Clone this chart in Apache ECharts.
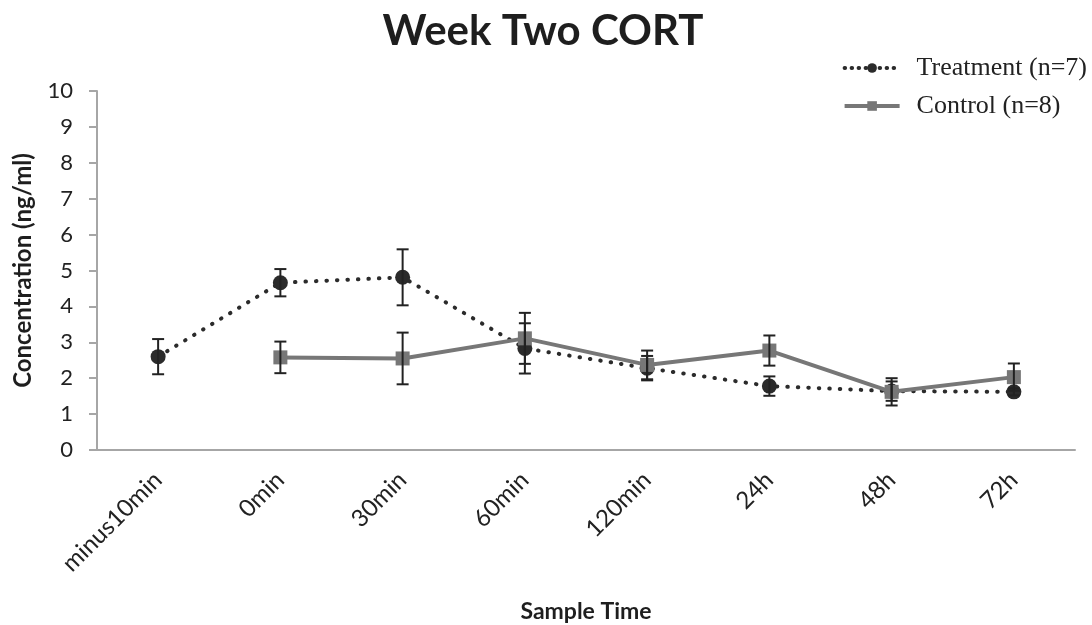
<!DOCTYPE html>
<html>
<head>
<meta charset="utf-8">
<script src="https://cdn.jsdelivr.net/npm/echarts@6/dist/echarts.min.js"></script>
<style>
  html, body { margin: 0; padding: 0; background: #fff; }
  #chart { width: 1092px; height: 625px; }
</style>
</head>
<body>
<div id="chart"></div>
<script>
// Sample times along the x axis
const sampleTimes = ['minus10min', '0min', '30min', '60min', '120min', '24h', '48h', '72h'];

// Treatment group (n=7): mean CORT and standard error
const treatmentMean = [2.60, 4.66, 4.81, 2.83, 2.28, 1.78, 1.64, 1.62];
const treatmentErr  = [0.49, 0.38, 0.78, 0.70, 0.34, 0.27, 0.27, 0.10];

// Control group (n=8): no baseline sample at minus10min
const controlMean = [null, 2.58, 2.55, 3.11, 2.37, 2.77, 1.62, 2.03];
const controlErr  = [null, 0.44, 0.72, 0.71, 0.40, 0.42, 0.38, 0.38];

const yTicks = { min: 0, max: 10, interval: 1 };

const chart = echarts.init(document.getElementById('chart'));

// Build [index, low, high] triples for the error bar series
function errorData(mean, err) {
  const out = [];
  mean.forEach((m, i) => {
    if (m !== null && err[i] !== null) out.push([i, m - err[i], m + err[i]]);
  });
  return out;
}

function renderErrorBar(params, api) {
  const x = api.value(0);
  const lo = api.coord([x, api.value(1)]);
  const hi = api.coord([x, api.value(2)]);
  const half = 6;
  const style = { stroke: '#222', lineWidth: 2 };
  return {
    type: 'group',
    children: [
      { type: 'line', shape: { x1: lo[0], y1: lo[1], x2: hi[0], y2: hi[1] }, style },
      { type: 'line', shape: { x1: lo[0] - half, y1: lo[1], x2: lo[0] + half, y2: lo[1] }, style },
      { type: 'line', shape: { x1: hi[0] - half, y1: hi[1], x2: hi[0] + half, y2: hi[1] }, style }
    ]
  };
}

const option = {
  backgroundColor: '#fff',
  animation: false,
  title: {
    text: 'Week Two CORT',
    left: 538,
    textAlign: 'center',
    top: 5,
    textStyle: { fontFamily: 'Lato', fontWeight: 'bold', fontSize: 42, color: '#1e1e1e' }
  },
  legend: {
    orient: 'vertical',
    right: 0,
    top: 50,
    itemGap: 12,
    itemWidth: 55,
    itemHeight: 12,
    data: [
      { name: 'Treatment (n=7)', lineStyle: { width: 4, type: [0.5, 6.5], cap: 'round' } },
      { name: 'Control (n=8)', lineStyle: { width: 4, color: '#777777' } }
    ],
    textStyle: { fontFamily: 'Liberation Serif', fontSize: 26, color: '#222', padding: [0, 0, 0, 12] }
  },
  grid: { left: 97, right: 17, top: 91, bottom: 175, containLabel: false, outerBoundsMode: 'none' },
  xAxis: {
    type: 'category',
    data: sampleTimes,
    boundaryGap: true,
    name: 'Sample Time',
    nameLocation: 'middle',
    nameGap: 150,
    nameTextStyle: { fontFamily: 'Lato', fontWeight: 'bold', fontSize: 23, color: '#1e1e1e' },
    axisLine: { lineStyle: { color: '#a6a6a6', width: 2 } },
    axisTick: { show: false },
    axisLabel: { rotate: 45, margin: 26, fontFamily: 'Lato', fontSize: 24, color: '#222', interval: 0 }
  },
  yAxis: {
    type: 'value',
    min: yTicks.min,
    max: yTicks.max,
    interval: yTicks.interval,
    name: 'Concentration (ng/ml)',
    nameLocation: 'middle',
    nameGap: 62,
    nameRotate: 90,
    nameTextStyle: { fontFamily: 'Lato', fontWeight: 'bold', fontSize: 24, color: '#1e1e1e' },
    axisLine: { show: true, lineStyle: { color: '#a6a6a6', width: 2 } },
    axisTick: { show: true, inside: false, length: 8, lineStyle: { color: '#a6a6a6', width: 2 } },
    splitLine: { show: false },
    axisLabel: { fontFamily: 'Lato', fontSize: 22, color: '#222', margin: 24 }
  },
  series: [
    {
      name: 'Treatment (n=7)',
      type: 'line',
      data: treatmentMean,
      symbol: 'circle',
      symbolSize: 15,
      itemStyle: { color: '#2b2b2b' },
      lineStyle: { color: '#2b2b2b', width: 4, type: [0.5, 10], cap: 'round' },
      z: 2
    },
    {
      name: 'Control (n=8)',
      type: 'line',
      data: controlMean,
      symbol: 'rect',
      symbolSize: 14,
      itemStyle: { color: '#777777' },
      lineStyle: { color: '#777777', width: 4 },
      z: 3
    },
    {
      type: 'custom',
      data: errorData(treatmentMean, treatmentErr),
      renderItem: renderErrorBar,
      encode: { x: 0, y: [1, 2] },
      z: 5
    },
    {
      type: 'custom',
      data: errorData(controlMean, controlErr),
      renderItem: renderErrorBar,
      encode: { x: 0, y: [1, 2] },
      z: 5
    }
  ]
};

chart.setOption(option);
</script>
</body>
</html>
